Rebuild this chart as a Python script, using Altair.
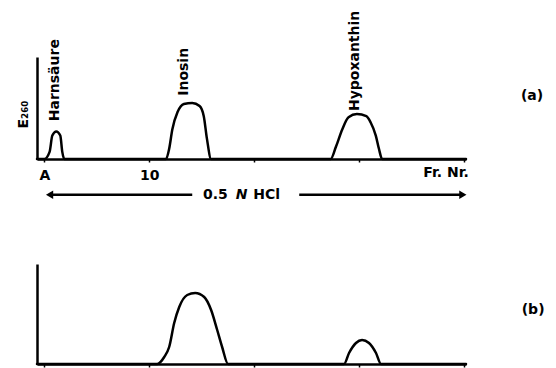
import altair as alt
import pandas as pd

# ---- data ----
# panel (a): fraction number vs. E260 (relative)
a_frac = [-0.7, 0.0, 0.5, 0.76, 1.14, 1.52, 1.71, 1.9,
          11.6, 11.9, 12.2, 12.7, 13.3, 14.1, 14.8, 15.2, 15.5, 15.9,
          27.3, 27.8, 28.4, 29.0, 29.8, 30.7, 31.1, 31.6, 31.9, 32.2, 40.2]
a_E = [0, 0, 0.07, 0.23, 0.27, 0.23, 0.07, 0,
       0, 0.10, 0.29, 0.46, 0.54, 0.55, 0.52, 0.42, 0.20, 0,
       0, 0.12, 0.29, 0.41, 0.44, 0.42, 0.36, 0.23, 0.10, 0, 0]

# panel (b)
b_frac = [-0.7, 10.76, 11.43, 11.9, 12.38, 12.86, 13.62, 14.38, 15.24, 15.9, 16.48, 16.95, 17.52,
          28.57, 29.05, 29.71, 30.29, 30.95, 31.62, 32.1, 40.2]
b_E = [0, 0, 0.07, 0.17, 0.41, 0.57, 0.69, 0.71, 0.67, 0.54, 0.34, 0.17, 0,
       0, 0.11, 0.21, 0.24, 0.21, 0.11, 0, 0]

# peak labels (panel a)
peak_names = ["Harnsäure", "Inosin", "Hypoxanthin"]
peak_frac = [1.05, 13.3, 29.6]
peak_E = [0.37, 0.62, 0.47]

# x-axis ticks and labels
tick_values = [0, 10, 20, 30, 40]

# eluent arrow (0.5 N HCl) and its text
arrow_x = [0.5, 24.3]
arrow_x2 = [14.1, 39.9]
arrow_E = -0.35
head_frac = [0.5, 39.9]
head_shape = ["triangle-left", "triangle-right"]
eluent_text = ["0.5", "HCl"]
eluent_frac = [16.3, 21.2]
eluent_italic_text = ["N"]
eluent_italic_frac = [18.8]

# other annotations
a_notes = ["Fr. Nr.", "(a)"]
a_notes_frac = [38.3, 46.5]
a_notes_E = [-0.14, 0.62]
b_notes = ["(b)"]
b_notes_frac = [46.6]
b_notes_E = [0.54]

FONT = "DejaVu Sans"
W = 429
XDOM = [-0.7, 40.2]

xscale = alt.Scale(domain=XDOM, nice=False, zero=False)
yscale = alt.Scale(domain=[0, 1], nice=False, zero=True)


def trace(frac, E, xaxis, yaxis):
    df = pd.DataFrame({"frac": frac, "E": E})
    return alt.Chart(df).mark_line(
        color="black", strokeWidth=2.5, interpolate="monotone", strokeCap="round"
    ).encode(
        x=alt.X("frac:Q", scale=xscale, axis=xaxis),
        y=alt.Y("E:Q", scale=yscale, axis=yaxis),
    )


def txt(df, **kw):
    base = dict(baseline="middle", font=FONT, fontSize=14, color="black")
    base.update(kw)
    return alt.Chart(df).mark_text(**base).encode(
        x=alt.X("frac:Q", scale=xscale), y=alt.Y("E:Q", scale=yscale), text="t:N"
    )


xaxis_a = alt.Axis(
    values=tick_values, title=None, grid=False, domainColor="black", domainWidth=2.5,
    tickColor="black", tickSize=3, tickWidth=1.5, labelPadding=6,
    labelExpr="datum.value == 0 ? 'A' : (datum.value == 10 ? '10' : '')",
    labelFont=FONT, labelFontSize=14, labelFontWeight="bold", labelColor="black",
)
yaxis_a = alt.Axis(
    title="E₂₆₀", labels=False, ticks=False, tickSize=0, grid=False,
    domainColor="black", domainWidth=2.5, titleFont=FONT, titleFontSize=14,
    titleFontWeight="bold", titleColor="black", titlePadding=7, titleY=57,
)
xaxis_b = alt.Axis(
    values=tick_values, title=None, grid=False, labels=False, domainColor="black",
    domainWidth=2.5, tickColor="black", tickSize=3, tickWidth=1.5,
)
yaxis_b = alt.Axis(
    title=None, labels=False, ticks=False, tickSize=0, grid=False,
    domainColor="black", domainWidth=2.5,
)

# ---- panel (a) ----
line_a = trace(a_frac, a_E, xaxis_a, yaxis_a)

peaks_df = pd.DataFrame({"t": peak_names, "frac": peak_frac, "E": peak_E})
peak_labels = txt(peaks_df, angle=270, align="left", fontWeight="bold")

arrow_df = pd.DataFrame({"x": arrow_x, "x2": arrow_x2, "E": [arrow_E] * len(arrow_x)})
arrow_lines = alt.Chart(arrow_df).mark_rule(color="black", strokeWidth=2.5).encode(
    x=alt.X("x:Q", scale=xscale), x2="x2:Q", y=alt.Y("E:Q", scale=yscale)
)
heads_df = pd.DataFrame({"frac": head_frac, "E": [arrow_E] * 2, "shape": head_shape})
arrow_heads = alt.Chart(heads_df).mark_point(
    filled=True, color="black", size=70, opacity=1
).encode(
    x=alt.X("frac:Q", scale=xscale), y=alt.Y("E:Q", scale=yscale),
    shape=alt.Shape("shape:N", scale=None),
)
elu_df = pd.DataFrame({"t": eluent_text, "frac": eluent_frac, "E": [arrow_E] * 2})
elu_text = txt(elu_df, align="center", fontWeight="bold")
elu_i_df = pd.DataFrame({"t": eluent_italic_text, "frac": eluent_italic_frac, "E": [arrow_E]})
elu_i_text = txt(elu_i_df, align="center", fontStyle="italic", fontWeight="bold")

notes_a_df = pd.DataFrame({"t": a_notes, "frac": a_notes_frac, "E": a_notes_E})
notes_a = txt(notes_a_df, align="center", fontWeight="bold")

panel_a = alt.layer(
    line_a, peak_labels, arrow_lines, arrow_heads, elu_text, elu_i_text, notes_a
).properties(width=W, height=102)

# ---- panel (b) ----
line_b = trace(b_frac, b_E, xaxis_b, yaxis_b)
notes_b_df = pd.DataFrame({"t": b_notes, "frac": b_notes_frac, "E": b_notes_E})
notes_b = txt(notes_b_df, align="center", fontWeight="bold")

panel_b = alt.layer(line_b, notes_b).properties(width=W, height=100)

chart = alt.vconcat(panel_a, panel_b, spacing=62).properties(
    padding={"left": 8, "top": 2, "right": 0, "bottom": 0},
    background="white",
).configure_view(stroke=None)

chart.save("out.html", embed_options={"renderer": "svg", "actions": False})
